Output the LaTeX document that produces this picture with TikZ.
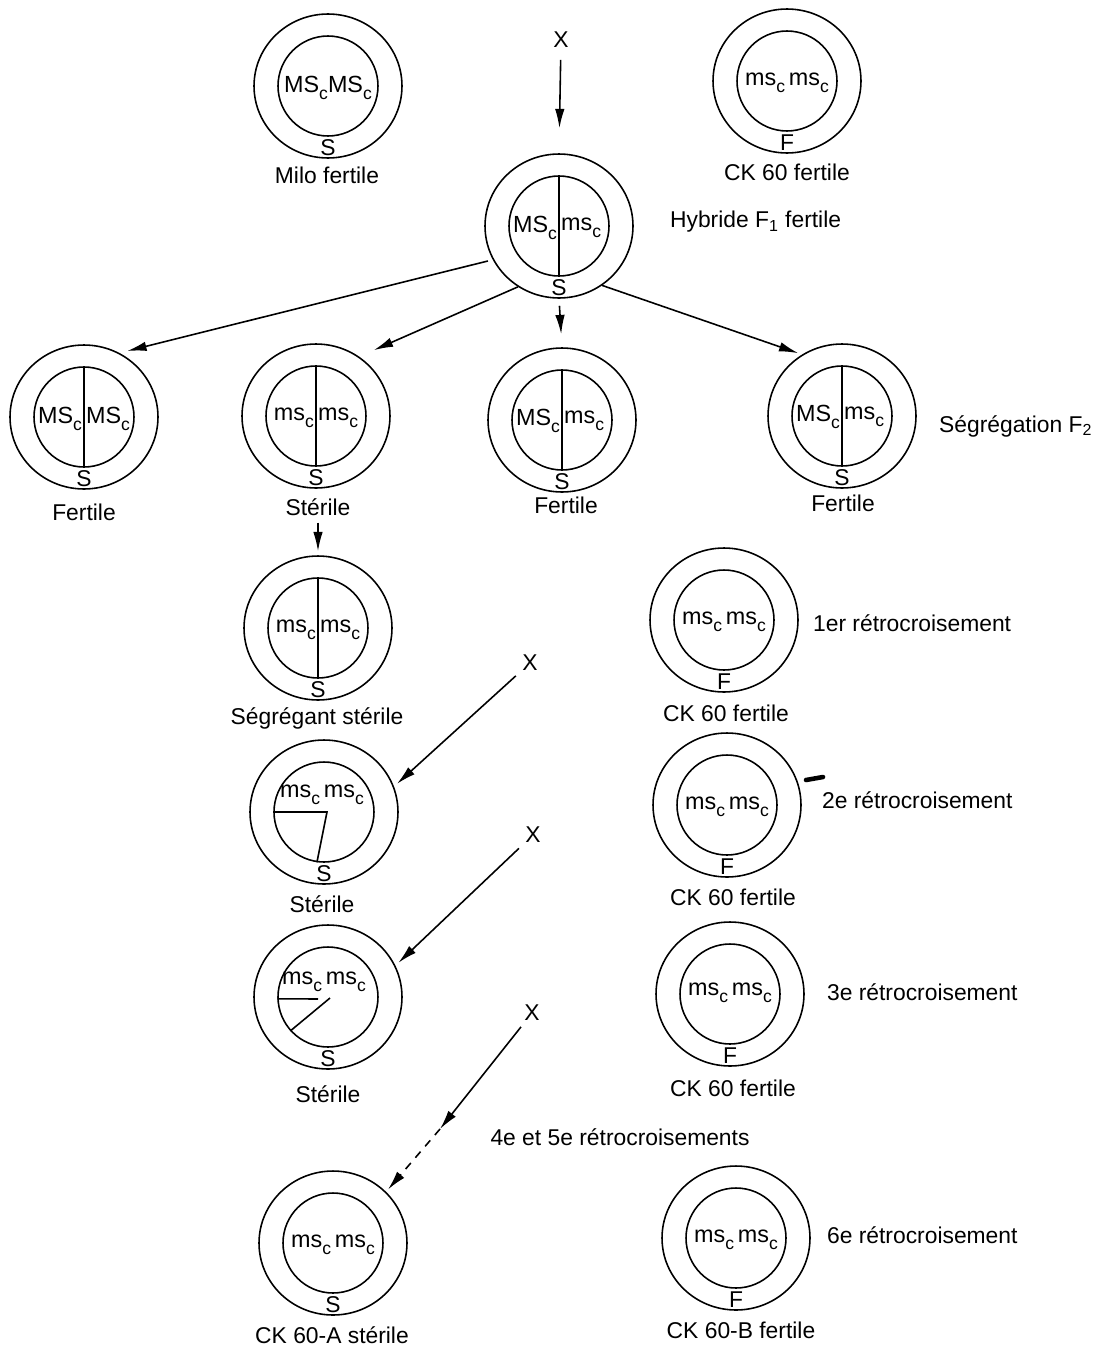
\documentclass[tikz,border=0pt]{standalone}
\usepackage{fontspec}
\setmainfont{Liberation Sans}
\usetikzlibrary{shapes.geometric,arrows.meta}
\newcommand{\gsub}[1]{\raisebox{-0.28em}{\fontsize{10}{10}\selectfont #1}}
\newcommand{\MSc}{MS\gsub{c}}
\newcommand{\msc}{ms\gsub{c}}
\newcommand{\plante}[4]{%
  \node[outerc] (#1) at (#2,#3) {};
  \node[innerc] (#1i) at (#2,#3) {};
  \node[letter] (#1s) at (#2,#3+62) {#4};
}
\begin{document}
\begin{tikzpicture}[x=0.02cm,y=-0.02cm,
  outerc/.style={draw, ellipse, minimum width=2.96cm, minimum height=2.88cm, inner sep=0pt, line width=0.9pt},
  innerc/.style={draw, circle, minimum size=2cm, inner sep=0pt, line width=0.9pt},
  letter/.style={font=\fontsize{13}{14}\selectfont, inner sep=0pt},
  gene/.style={font=\fontsize{13.3}{15}\selectfont, inner sep=1pt},
  lbl/.style={font=\fontsize{13}{15}\selectfont, inner sep=1pt},
  divline/.style={line width=0.9pt},
  arr/.style={-{Latex[length=11pt,width=5.4pt]}, line width=0.9pt},
  dasharr/.style={arr, dash pattern=on 4.5pt off 4pt}
]
\useasboundingbox (0,0) rectangle (1097,1349);

% ---------- plants ----------
\plante{milo}{328}{86}{S}
\plante{ckz}{787}{81}{F}
\plante{hyb}{559}{226}{S}
\plante{fa}{84}{417}{S}
\plante{st}{316}{416}{S}
\plante{fc}{562}{420}{S}
\plante{fd}{842}{416}{S}
\plante{seg}{318}{628}{S}
\plante{cka1}{724}{620}{F}
\plante{sta}{324}{812}{S}
\plante{cka2}{727}{805}{F}
\plante{stb}{328}{997}{S}
\plante{cka3}{730}{994}{F}
\plante{ckA}{333}{1243}{S}
\plante{ckB}{736}{1238}{F}

% ---------- dividing lines ----------
\foreach \n in {hyb,fa,st,fc,fd,seg}{
  \draw[divline] (\n i.north) -- (\n i.south);
}
\draw[divline] (stai.west) -- (327,812) -- (stai.262);
\draw[divline] (stbi.182) -- (318,999);
\draw[divline] (330,998) -- (stbi.222);

% ---------- genotypes ----------
\node[gene] (milog) at (328,88) {\MSc\MSc};
\node[gene] (ckzg) at (787,83) {\msc\,\msc};
\node[gene, anchor=east] (hybg1) at (559,228) {\MSc};
\node[gene, anchor=west] (hybg2) at (559,228) {\msc};
\node[gene, anchor=east] (fag1) at (84,419) {\MSc};
\node[gene, anchor=west] (fag2) at (84,419) {\MSc};
\node[gene, anchor=east] (stg1) at (316,418) {\msc};
\node[gene, anchor=west] (stg2) at (316,418) {\msc};
\node[gene, anchor=east] (fcg1) at (562,421) {\MSc};
\node[gene, anchor=west] (fcg2) at (562,421) {\msc};
\node[gene, anchor=east] (fdg1) at (842,417) {\MSc};
\node[gene, anchor=west] (fdg2) at (842,417) {\msc\,};
\node[gene, anchor=east] (segg1) at (318,630) {\msc};
\node[gene, anchor=west] (segg2) at (318,630) {\msc};
\node[gene] (cka1g) at (724,622) {\msc\,\msc};
\node[gene] (stag) at (322,795) {\msc\,\msc};
\node[gene] (cka2g) at (727,807) {\msc\,\msc};
\node[gene] (stbg) at (324,982) {\msc\,\msc};
\node[gene] (cka3g) at (730,993) {\msc\,\msc};
\node[gene] (ckAg) at (333,1245) {\msc\,\msc};
\node[gene] (ckBg) at (736,1240) {\msc\,\msc};

% ---------- labels ----------
\node[lbl] (milolab) at (327,175) {Milo fertile};
\node[lbl] (ckzlab) at (787,172) {CK 60 fertile};
\node[lbl, anchor=west] (hyblab) at (668,222) {Hybride F\textsubscript{1} fertile};
\node[lbl] (falab) at (84,512) {Fertile};
\node[lbl] (stlab) at (318,507) {Stérile};
\node[lbl] (fclab) at (566,505) {Fertile};
\node[lbl] (fdlab) at (843,503) {Fertile};
\node[lbl, anchor=west] (f2lab) at (937,426) {Ségrégation F\textsubscript{2}};
\node[lbl] (seglab) at (317,718) {Ségrégant stérile};
\node[lbl] (cka1lab) at (726,713) {CK 60 fertile};
\node[lbl, anchor=west] (r1) at (811,623) {1er rétrocroisement};
\node[lbl] (stalab) at (322,904) {Stérile};
\node[lbl] (cka2lab) at (733,897) {CK 60 fertile};
\node[lbl, anchor=west] (r2) at (820,800) {2e rétrocroisement};
\node[lbl] (stblab) at (328,1094) {Stérile};
\node[lbl] (cka3lab) at (733,1088) {CK 60 fertile};
\node[lbl, anchor=west] (r3) at (825,992) {3e rétrocroisement};
\node[lbl] (r45) at (620,1137) {4e et 5e rétrocroisements};
\node[lbl] (ckAlab) at (332,1335) {CK 60-A stérile};
\node[lbl] (ckBlab) at (741,1330) {CK 60-B fertile};
\node[lbl, anchor=west] (r6) at (825,1235) {6e rétrocroisement};

% ---------- crosses ----------
\node[lbl] (x0) at (561,40) {X};
\node[lbl] (x1) at (530,663) {X};
\node[lbl] (x2) at (533,835) {X};
\node[lbl] (x3) at (532,1013) {X};

% ---------- arrows ----------
\draw[arr, shorten <=0.2cm, shorten >=0.5cm] (x0) -- (hyb.north);
\draw[arr, shorten <=0.1cm, shorten >=0.16cm] (hyb.207) -- (fa.61);
\draw[arr, shorten >=0.32cm] (hyb.236) -- (st.54);
\draw[arr, shorten <=0.14cm, shorten >=0.26cm] (hyb.south) -- (fc.north);
\draw[arr, shorten >=0.08cm] (hyb.-54) -- (fd.123);
\draw[arr, shorten <=0.1cm, shorten >=0.08cm] (stlab) -- (seg.north);
\draw[arr, shorten <=0.12cm, shorten >=0.08cm] (x1) -- (sta.20);
\draw[arr, shorten <=0.12cm, shorten >=0.08cm] (x2) -- (stb.25);
\coordinate (mid) at (440,1129);
\draw[arr, shorten <=0.1cm] (x3) -- (mid);
\draw[dasharr, shorten >=0.06cm] (mid) -- (ckA.44);

% stray mark
\draw[line width=2.6pt, line cap=round] (806,780) -- (823,777);
\end{tikzpicture}
\end{document}
